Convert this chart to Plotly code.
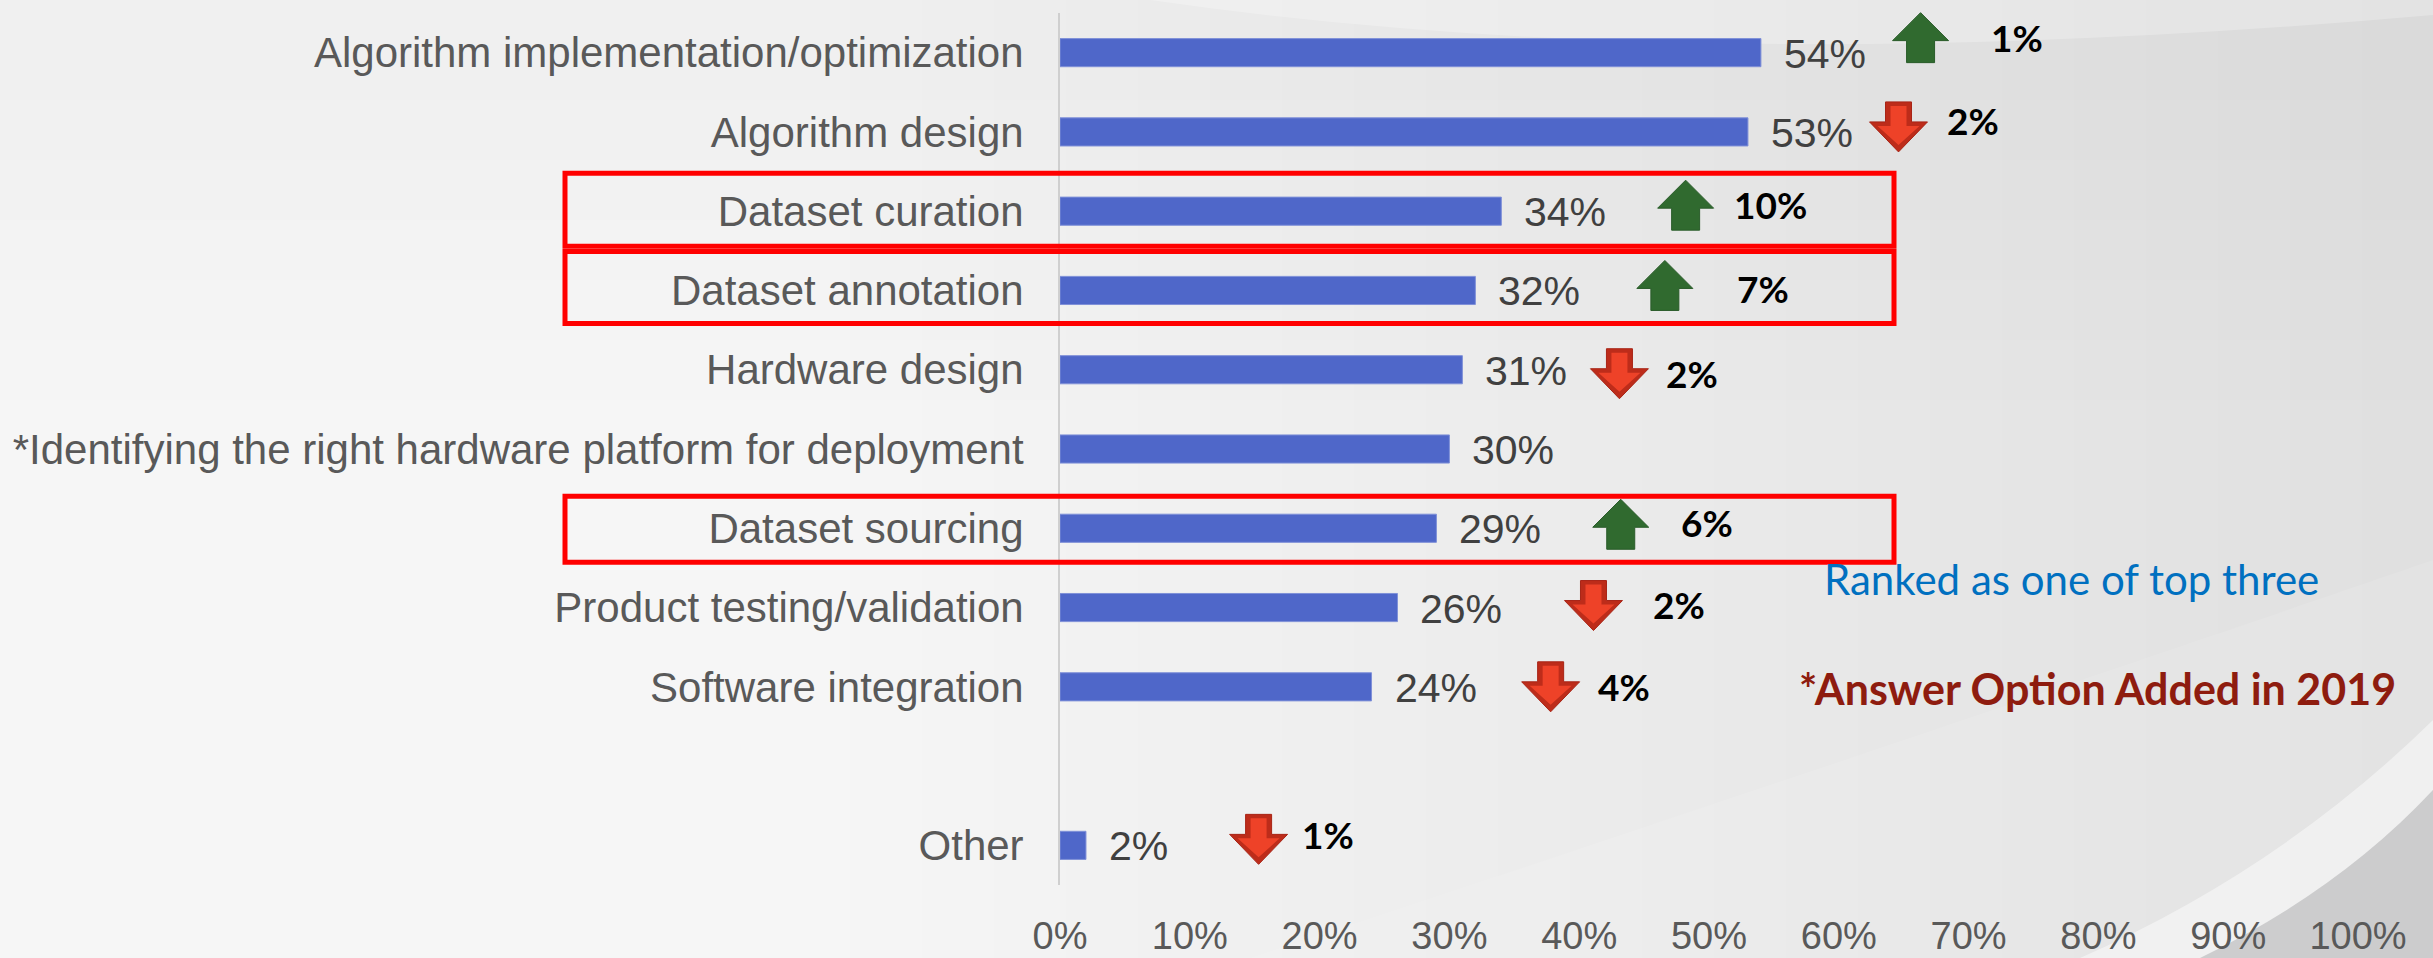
import plotly.graph_objects as go

# ---------------- data ----------------
categories = [
    "Algorithm implementation/optimization",
    "Algorithm design",
    "Dataset curation",
    "Dataset annotation",
    "Hardware design",
    "*Identifying the right hardware platform for deployment",
    "Dataset sourcing",
    "Product testing/validation",
    "Software integration",
    "Other",
]
values = [54, 53, 34, 32, 31, 30, 29, 26, 24, 2]          # % share
changes = [1, -2, 10, 7, -2, None, 6, -2, -4, -1]          # change vs previous year (pts)
row_slots = [0, 1, 2, 3, 4, 5, 6, 7, 8, 10]                # slot 9 is left empty
highlighted = ["Dataset curation", "Dataset annotation", "Dataset sourcing"]
x_ticks = [0, 10, 20, 30, 40, 50, 60, 70, 80, 90, 100]
x_tick_labels = [f"{t}%" for t in x_ticks]
note_top3 = "Ranked as one of top three"
note_added = "*Answer Option Added in 2019"

# ---------------- layout helpers (positions / styles) ----------------
W, H = 2433, 958
ML, MR, MT, MB = 1060, 75, 13, 73
PW, PH = W - ML - MR, H - MT - MB
Y_LO, Y_HI = -0.5, 10.5

# where the change arrows / labels sit along the % axis, and vertical nudges (px, up +)
arrow_x = [66.3, 64.6, 48.2, 46.6, 43.1, None, 43.2, 41.1, 37.8, 15.3]
label_x = [71.6, 68.2, 51.8, 52.0, 46.5, None, 47.7, 45.5, 41.3, 18.5]
arrow_dy = [15, 5, 6, 5, -4, 0, 4, 2, 0, 6]
label_dy = [15, 11, 7, 2, -4, 0, 6, 3, 0, 11]
# highlight box extents in px relative to the row centre (top, bottom)
box_ext = {"Dataset curation": (38, -35), "Dataset annotation": (39, -33), "Dataset sourcing": (32, -34)}


def px_x(px):
    return (px - ML) / PW


def py_y(py):
    return (MT + PH - py) / PH


def row_y(slot, dy_px=0.0):
    return (Y_HI - slot) / (Y_HI - Y_LO) + dy_px / PH


BAR = "#4F67C9"
GREEN = "#306A2F"
RED_OUT = "#BD2C1A"
RED_IN = "#EE4228"

fig = go.Figure()
fig.add_trace(go.Bar(
    x=values, y=row_slots, orientation="h", width=0.355,
    marker=dict(color=BAR, line=dict(color="#7F90D8", width=1)),
    hoverinfo="skip", showlegend=False,
))

shapes = []
annotations = []

# ---- background (slide-like grey gradient with swooshes) ----
X0, X1 = px_x(0), px_x(W)
Y0, Y1 = py_y(H), py_y(0)
for i in range(22):
    shapes.append(dict(type="rect", xref="paper", yref="paper", layer="below",
                       x0=px_x(850 + i * 72), x1=X1, y0=Y0, y1=Y1,
                       fillcolor="rgba(128,128,131,0.010)", line=dict(width=0)))
for i in range(6):
    shapes.append(dict(type="rect", xref="paper", yref="paper", layer="below",
                       x0=X0, x1=X1, y0=py_y(100 + i * 60), y1=Y1,
                       fillcolor="rgba(150,150,152,0.010)", line=dict(width=0)))


def ppath(pts_cmds):
    out = []
    for cmd, coords in pts_cmds:
        s = cmd
        for (x, y) in coords:
            s += f" {px_x(x):.4f},{py_y(y):.4f}"
        out.append(s)
    return " ".join(out) + " Z"


# light swoosh near the top
shapes.append(dict(type="path", xref="paper", yref="paper", layer="below",
                   path=ppath([("M", [(1150, 0)]), ("Q", [(1700, 80), (2433, 15)]), ("L", [(2433, 0)])]),
                   fillcolor="rgba(255,255,255,0.25)", line=dict(width=0)))
# faint lighter arc in the lower middle
shapes.append(dict(type="path", xref="paper", yref="paper", layer="below",
                   path=ppath([("M", [(1250, 958)]), ("Q", [(1850, 760), (2433, 560)]), ("L", [(2433, 958)])]),
                   fillcolor="rgba(255,255,255,0.10)", line=dict(width=0)))
# bright band and darker corner at the bottom right
shapes.append(dict(type="path", xref="paper", yref="paper", layer="below",
                   path=ppath([("M", [(2433, 720)]), ("Q", [(2280, 870), (2080, 958)]),
                               ("L", [(2200, 958)]), ("Q", [(2340, 890), (2433, 790)])]),
                   fillcolor="rgba(255,255,255,0.45)", line=dict(width=0)))
shapes.append(dict(type="path", xref="paper", yref="paper", layer="below",
                   path=ppath([("M", [(2433, 790)]), ("Q", [(2340, 890), (2200, 958)]), ("L", [(2433, 958)])]),
                   fillcolor="rgba(160,160,163,0.35)", line=dict(width=0)))

# ---- value labels ----
for v, s in zip(values, row_slots):
    annotations.append(dict(x=v, y=s, xref="x", yref="y", text=f"{v}%", showarrow=False,
                            xanchor="left", yanchor="middle", xshift=21, yshift=-1,
                            font=dict(family="Liberation Sans, Arial", size=41, color="#404040")))

# ---- change arrows and labels ----
UP = "M -14,-25 L 14,-25 L 14,-3 L 28,-3 L 0,25 L -28,-3 L -14,-3 Z"
DOWN_OUT = "M -13,25 L 13,25 L 13,5 L 29,5 L 0,-25 L -29,5 L -13,5 Z"
DOWN_IN = "M -8,21 L 8,21 L 8,1 L 21,1 L 0,-18 L -21,1 L -8,1 Z"
for c, s, ax, lx, ady, ldy in zip(changes, row_slots, arrow_x, label_x, arrow_dy, label_dy):
    if c is None:
        continue
    anchor = dict(xref="paper", yref="paper", xsizemode="pixel", ysizemode="pixel",
                  xanchor=ax / 100, yanchor=row_y(s, ady), layer="above")
    if c > 0:
        shapes.append(dict(type="path", path=UP, fillcolor=GREEN,
                           line=dict(color="#2A5C2A", width=1), **anchor))
    else:
        shapes.append(dict(type="path", path=DOWN_OUT, fillcolor=RED_OUT,
                           line=dict(color="#A82416", width=1), **anchor))
        shapes.append(dict(type="path", path=DOWN_IN, fillcolor=RED_IN,
                           line=dict(width=0), **anchor))
    annotations.append(dict(x=lx / 100, y=row_y(s, ldy), xref="paper", yref="paper",
                            text=f"{abs(c)}%", showarrow=False, xanchor="left", yanchor="middle",
                            font=dict(family="Lato", size=37, color="#000000", weight="bold")))

# ---- highlight boxes ----
for name in highlighted:
    s = row_slots[categories.index(name)]
    top, bot = box_ext[name]
    shapes.append(dict(type="rect", xref="paper", yref="paper", layer="above",
                       x0=px_x(565), x1=px_x(1894), y0=row_y(s, bot), y1=row_y(s, top),
                       line=dict(color="#FF0000", width=5), fillcolor="rgba(0,0,0,0)"))

# ---- notes ----
annotations.append(dict(x=px_x(1822), y=py_y(579), xref="paper", yref="paper",
                        text=note_top3, showarrow=False, xanchor="left", yanchor="middle",
                        font=dict(family="Lato", size=42, color="#0070C0")))
annotations.append(dict(x=px_x(1797), y=py_y(688), xref="paper", yref="paper",
                        text=note_added, showarrow=False, xanchor="left", yanchor="middle",
                        font=dict(family="Lato", size=43, color="#8E1C0F", weight="bold")))

fig.update_layout(
    width=W, height=H,
    margin=dict(l=ML, r=MR, t=MT, b=MB, pad=0, autoexpand=False),
    paper_bgcolor="#F6F6F6", plot_bgcolor="rgba(0,0,0,0)",
    shapes=shapes, annotations=annotations, showlegend=False,
    xaxis=dict(range=[0, 100], tickvals=x_ticks, ticktext=x_tick_labels, automargin=False,
               showgrid=False, zeroline=False, showline=False, ticks="",
               tickfont=dict(family="Liberation Sans, Arial", size=38, color="#595959"),
               ticklabelstandoff=25, fixedrange=True),
    yaxis=dict(range=[Y_HI, Y_LO], tickvals=row_slots, ticktext=categories, automargin=False,
               showgrid=False, zeroline=False, showline=True, linecolor="#CFCFCF", linewidth=2,
               ticks="", tickfont=dict(family="Liberation Sans, Arial", size=42, color="#595959"),
               ticklabelstandoff=26, fixedrange=True),
)

fig.write_html("out.html", config={"displayModeBar": False},
               post_script="document.body.style.margin='0';document.body.style.overflow='hidden';")
